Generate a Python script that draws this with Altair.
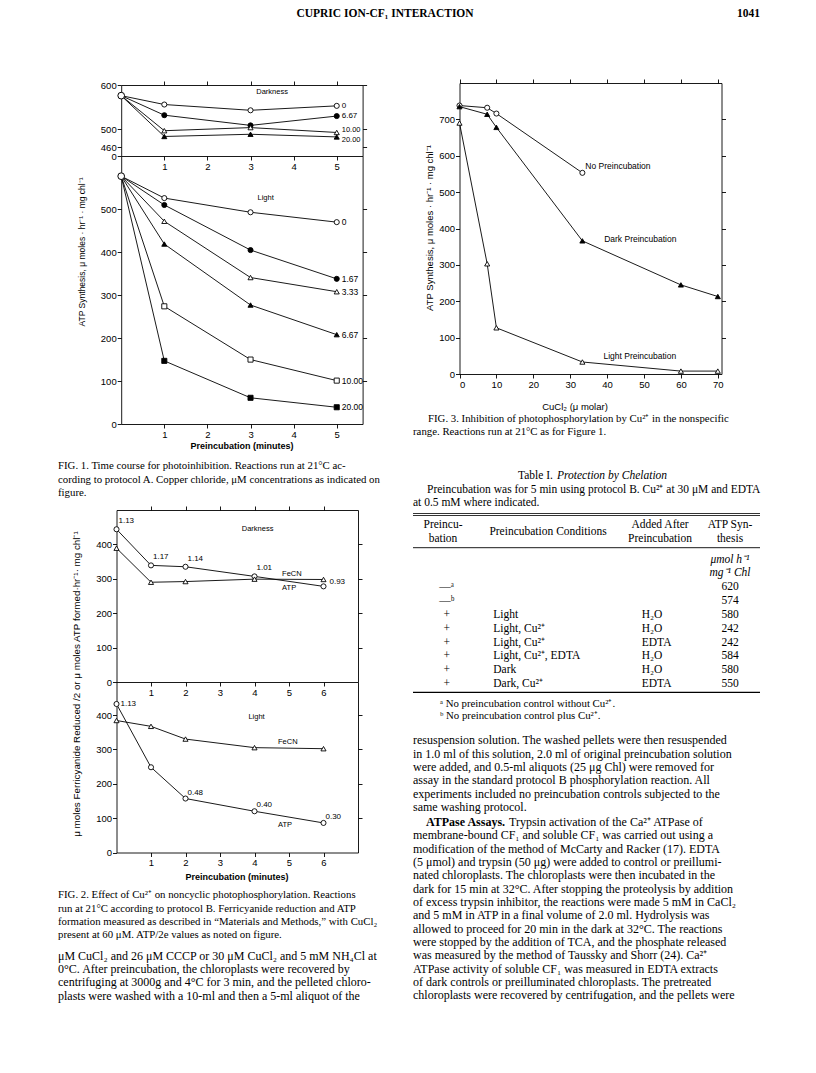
import altair as alt
import pandas as pd

# ---------------- data ----------------
# Figure 1: ATP synthesis vs preincubation time, CuCl2 (uM) series
F1_TIME = [0, 1, 3, 5]
F1_DARK_CONC = ["0", "6.67", "10.00", "20.00"]
F1_DARK_ATP = [
    [576, 556, 543, 553],
    [576, 532, 509, 530],
    [576, 497, 504, 493],
    [576, 484, 489, 483],
]
F1_LIGHT_CONC = ["0", "1.67", "3.33", "6.67", "10.00", "20.00"]
F1_LIGHT_ATP = [
    [577, 526, 493, 470],
    [577, 510, 405, 338],
    [577, 472, 341, 308],
    [577, 419, 277, 208],
    [577, 274, 150, 101],
    [577, 147, 61, 39],
]
# Figure 2: ferricyanide reduction / ATP formation
F2_TIME = [0, 1, 2, 4, 6]
F2_SERIES = ["ATP", "FeCN"]
F2_DARK_ATP = [444, 339, 335, 307, 278]
F2_DARK_FECN = [389, 290, 292, 299, 298]
F2_DARK_RATIO = ["1.13", "1.17", "1.14", "1.01", "0.93"]
F2_LIGHT_ATP = [432, 248, 157, 120, 86]
F2_LIGHT_FECN = [384, 367, 330, 305, 302]
F2_LIGHT_RATIO = ["1.13", "", "0.48", "0.40", "0.30"]
# Figure 3: ATP synthesis vs CuCl2
F3_CUCL2 = [0, 7.5, 10, 33.3, 60, 70]
F3_SERIES = ["No Preincubation", "Dark Preincubation", "Light Preincubation"]
F3_NONE = [738, 732, 716, 553]
F3_DARK = [735, 714, 678, 366, 245, 213]
F3_LIGHT = [690, 303, 127, 33, 8, 8]
# Table I
T_PREINC = ["—ᵃ", "—ᵇ", "+", "+", "+", "+", "+", "+"]
T_COND = ["", "", "Light", "Light, Cu²⁺", "Light, Cu²⁺", "Light, Cu²⁺, EDTA", "Dark", "Dark, Cu²⁺"]
T_ADDED = ["", "", "H₂O", "H₂O", "EDTA", "H₂O", "H₂O", "EDTA"]
T_ATP = [620, 574, 580, 242, 242, 584, 580, 550]

# ---------------- layout helpers ----------------
M = 8
W, H = 800, 1057
SANS = "Liberation Sans"
SERIF = "Liberation Serif"

AX = dict(grid=False, title=None, labelFont=SANS, labelFontSize=9.5, labelColor="black",
          tickColor="black", domainColor="black", tickSize=4, tickWidth=0.9,
          domainWidth=0.9, labelPadding=1, labelOverlap=False)


def make_df(xs, names, vals):
    rows = []
    for name, vv in zip(names, vals):
        for t, v in zip(xs, vv):
            rows.append({"t": t, "v": v, "s": name})
    return pd.DataFrame(rows)


def scales(xdom, xpx, ydom, ypx):
    xs = alt.Scale(domain=xdom, range=[xpx[0] - M, xpx[1] - M], nice=False, zero=False)
    ys = alt.Scale(domain=ydom, range=[ypx[0] - M, ypx[1] - M], nice=False, zero=False)
    return xs, ys


def panel(df, xs, ys, xpx, ypx, xticks, yticks, names, shapes, fills, top=True,
          ylabel_expr=None, first_open=False, size=26):
    xa = alt.Axis(orient="bottom", offset=(ypx[0] - M) - H, values=xticks, format="d", **AX)
    yargs = dict(AX)
    if ylabel_expr:
        yargs["labelExpr"] = ylabel_expr
    ya = alt.Axis(orient="left", offset=-(xpx[0] - M), values=yticks, format="d", **yargs)
    base = alt.Chart(df)
    layers = []
    layers.append(base.mark_line(color="black", strokeWidth=0.9).encode(
        x=alt.X("t:Q", scale=xs, axis=xa), y=alt.Y("v:Q", scale=ys, axis=ya), detail="s:N"))
    pbase = base.transform_filter(alt.datum.t > 0) if first_open else base
    layers.append(pbase.mark_point(filled=True, stroke="black", strokeWidth=0.9, size=size, opacity=1).encode(
        x=alt.X("t:Q", scale=xs, axis=None), y=alt.Y("v:Q", scale=ys, axis=None),
        shape=alt.Shape("s:N", scale=alt.Scale(domain=names, range=shapes), legend=None),
        fill=alt.Fill("s:N", scale=alt.Scale(domain=names, range=fills), legend=None)))
    if first_open:
        layers.append(base.transform_filter((alt.datum.t == 0) & (alt.datum.s == names[0]))
                      .mark_point(shape="circle", filled=True, fill="white", stroke="black",
                                  strokeWidth=1, size=45, opacity=1)
                      .encode(x=alt.X("t:Q", scale=xs, axis=None), y=alt.Y("v:Q", scale=ys, axis=None)))
    # frame axes (top/right)
    ta = alt.Axis(orient="top", offset=-(ypx[1] - M), values=xticks, labels=False, **AX) if top else None
    ra = alt.Axis(orient="right", offset=(xpx[1] - M) - W, values=[v for v in yticks if v > ys.domain[0]],
                  labels=False, **AX)
    layers.append(base.mark_point(opacity=0).encode(
        x=alt.X("t:Q", scale=xs, axis=ta), y=alt.Y("v:Q", scale=ys, axis=ra)))
    return layers


def end_labels(df, xs, ys, tlast, dx=5, size=8.5, dy=0, only=None):
    c = alt.Chart(df).transform_filter(alt.datum.t == tlast)
    if only is not None:
        c = c.transform_filter(alt.FieldOneOfPredicate(field="s", oneOf=only))
    return c.mark_text(
        align="left", baseline="middle", dx=dx, dy=dy, font=SANS, fontSize=size, color="black").encode(
        x=alt.X("t:Q", scale=xs, axis=None), y=alt.Y("v:Q", scale=ys, axis=None), text="s:N")


def note(text, xv, yv, xs, ys, align="center", size=8, weight="normal"):
    return alt.Chart(pd.DataFrame({"n": [text]})).mark_text(
        align=align, baseline="middle", font=SANS, fontSize=size, fontWeight=weight, color="black").encode(
        x=alt.XDatum(xv, scale=xs, axis=None), y=alt.YDatum(yv, scale=ys, axis=None), text="n:N")


def txt(lines, x, y, size, font=SERIF, align="left", weight="normal", style="normal", lh=None, angle=0):
    kw = dict(align=align, baseline="top", font=font, fontSize=size, fontWeight=weight,
              fontStyle=style, color="black", lineBreak="\n")
    if lh:
        kw["lineHeight"] = lh
    if angle:
        kw["angle"] = angle
        kw["baseline"] = "middle"
        ytop = y
    else:
        ytop = y - 0.53 * size
    return alt.Chart(pd.DataFrame({"txt": ["\n".join(lines)]})).mark_text(**kw).encode(
        x=alt.value(x - M), y=alt.value(ytop - M), text="txt:N")


def indep(layers):
    return alt.layer(*layers).resolve_axis(x="independent", y="independent")


parts = []
BODY = 12
CAP = 10.8
TAB = 11.5

# ---------------- header ----------------
parts.append(txt(["CUPRIC ION-CF₁ INTERACTION"], 385, 14, 11.5, weight="bold", align="center"))
parts.append(txt(["1041"], 760, 14, 11.5, weight="bold", align="right"))

# ---------------- Figure 1 ----------------
f1d = make_df(F1_TIME, F1_DARK_CONC, F1_DARK_ATP)
xs, ys = scales([0, 5.6], [121.2, 362.6], [440, 600], [156, 85])
L = panel(f1d, xs, ys, [121.2, 362.6], [156, 85], [1, 2, 3, 4, 5], [440, 460, 500, 600],
          F1_DARK_CONC, ["circle", "circle", "triangle-up", "triangle-up"],
          ["white", "black", "white", "black"], top=True,
          ylabel_expr="datum.value == 440 ? '0' : datum.label", first_open=True)
L.append(end_labels(f1d, xs, ys, 5, size=8, only=["0", "6.67"]))
L.append(end_labels(f1d, xs, ys, 5, size=7.5, dy=-2.5, only=["10.00"]))
L.append(end_labels(f1d, xs, ys, 5, size=7.5, dy=3, only=["20.00"]))
L.append(note("Darkness", 3.5, 585, xs, ys, size=7.5))
parts.append(indep(L))

f1l = make_df(F1_TIME, F1_LIGHT_CONC, F1_LIGHT_ATP)
xs, ys = scales([0, 5.6], [121.2, 362.6], [0, 624], [424, 156])
L = panel(f1l, xs, ys, [121.2, 362.6], [424, 156], [1, 2, 3, 4, 5], [0, 100, 200, 300, 400, 500],
          F1_LIGHT_CONC, ["circle", "circle", "triangle-up", "triangle-up", "square", "square"],
          ["white", "black", "white", "black", "white", "black"], top=False, first_open=True)
L.append(end_labels(f1l, xs, ys, 5))
L.append(note("Light", 3.35, 527, xs, ys, size=7.5))
parts.append(indep(L))

parts.append(txt(["ATP  Synthesis, μ moles · hr⁻¹ · mg chl⁻¹"], 82, 252, 8.5, font=SANS, angle=270, align="center"))
parts.append(txt(["Preincubation (minutes)"], 242, 447, 9, font=SANS, weight="bold", align="center"))
parts.append(txt(["FIG. 1. Time course for photoinhibition. Reactions run at 21°C ac-",
                  "cording to protocol A. Copper chloride, μM concentrations as indicated on",
                  "figure."], 58, 466, CAP, lh=13.5))

# ---------------- Figure 2 ----------------
f2d = make_df(F2_TIME, F2_SERIES, [F2_DARK_ATP, F2_DARK_FECN])
f2d_r = pd.DataFrame({"t": F2_TIME, "v": F2_DARK_ATP, "r": F2_DARK_RATIO})
xs, ys = scales([0, 7], [116.5, 358], [0, 500], [682, 510])
L = panel(f2d, xs, ys, [116.5, 358], [682, 510], [1, 2, 3, 4, 5, 6], [0, 100, 200, 300, 400],
          F2_SERIES, ["circle", "triangle-up"], ["white", "white"], top=True)
L.append(alt.Chart(f2d_r).transform_filter(alt.datum.t < 6).mark_text(
    align="left", baseline="middle", dx=2, dy=-8, font=SANS, fontSize=8, color="black").encode(
    x=alt.X("t:Q", scale=xs, axis=None), y=alt.Y("v:Q", scale=ys, axis=None), text="r:N"))
L.append(alt.Chart(f2d_r).transform_filter(alt.datum.t == 6).mark_text(
    align="left", baseline="middle", dx=6, dy=-4, font=SANS, fontSize=8, color="black").encode(
    x=alt.X("t:Q", scale=xs, axis=None), y=alt.Y("v:Q", scale=ys, axis=None), text="r:N"))
L.append(note("Darkness", 4.09, 446, xs, ys, size=7.5))
L.append(note("FeCN", 4.8, 314, xs, ys, align="left", size=7.5))
L.append(note("ATP", 4.8, 273, xs, ys, align="left", size=7.5))
parts.append(indep(L))

f2l = make_df(F2_TIME, F2_SERIES, [F2_LIGHT_ATP, F2_LIGHT_FECN])
f2l_r = pd.DataFrame({"t": F2_TIME, "v": F2_LIGHT_ATP, "r": F2_LIGHT_RATIO})
xs, ys = scales([0, 7], [116.5, 358], [0, 496], [852.5, 682])
L = panel(f2l, xs, ys, [116.5, 358], [852.5, 682], [1, 2, 3, 4, 5, 6], [0, 100, 200, 300, 400],
          F2_SERIES, ["circle", "triangle-up"], ["white", "white"], top=False)
L.append(alt.Chart(f2l_r).transform_filter(alt.datum.t == 0).mark_text(
    align="left", baseline="middle", dx=4, dy=0, font=SANS, fontSize=8, color="black").encode(
    x=alt.X("t:Q", scale=xs, axis=None), y=alt.Y("v:Q", scale=ys, axis=None), text="r:N"))
L.append(alt.Chart(f2l_r).transform_filter((alt.datum.t > 0) & (alt.datum.r != "")).mark_text(
    align="left", baseline="middle", dx=2, dy=-6, font=SANS, fontSize=8, color="black").encode(
    x=alt.X("t:Q", scale=xs, axis=None), y=alt.Y("v:Q", scale=ys, axis=None), text="r:N"))
L.append(note("Light", 4.06, 395, xs, ys, size=7.5))
L.append(note("FeCN", 4.68, 322, xs, ys, align="left", size=7.5))
L.append(note("ATP", 4.68, 80, xs, ys, align="left", size=7.5))
parts.append(indep(L))

parts.append(txt(["μ moles Ferricyanide Reduced /2  or  μ moles ATP formed·hr⁻¹· mg chl⁻¹"], 77, 684, 9.8,
                 font=SANS, angle=270, align="center"))
parts.append(txt(["Preincubation (minutes)"], 237, 878, 9, font=SANS, weight="bold", align="center"))
parts.append(txt(["FIG. 2. Effect of Cu²⁺ on noncyclic photophosphorylation. Reactions",
                  "run at 21°C according to protocol B. Ferricyanide reduction and ATP",
                  "formation measured as described in “Materials and Methods,” with CuCl₂",
                  "present at 60 μM. ATP/2e values as noted on figure."], 58, 895, CAP, lh=13.4))
parts.append(txt(["μM CuCl₂ and 26 μM CCCP or 30 μM CuCl₂ and 5 mM NH₄Cl at",
                  "0°C. After preincubation, the chloroplasts were recovered by",
                  "centrifuging at 3000g and 4°C for 3 min, and the pelleted chloro-",
                  "plasts were washed with a 10-ml and then a 5-ml aliquot of the"], 58, 957, BODY, lh=13.4))

# ---------------- Figure 3 ----------------
f3 = make_df(F3_CUCL2, F3_SERIES, [F3_NONE, F3_DARK, F3_LIGHT])
xs, ys = scales([0, 71], [459.5, 721.5], [0, 800], [374, 83])
L = panel(f3, xs, ys, [459.5, 721.5], [374, 83], [0, 10, 20, 30, 40, 50, 60, 70],
          [0, 100, 200, 300, 400, 500, 600, 700], F3_SERIES,
          ["circle", "triangle-up", "triangle-up"], ["white", "black", "white"], top=True)
L.append(note("No Preincubation", 34.1, 571, xs, ys, align="left", size=8.5))
L.append(note("Dark Preincubation", 39.2, 371, xs, ys, align="left", size=8.5))
L.append(note("Light Preincubation", 39, 49.6, xs, ys, align="left", size=8.5))
parts.append(indep(L))
parts.append(txt(["ATP  Synthesis, μ moles · hr⁻¹ · mg chl⁻¹"], 430, 228, 9.5, font=SANS, angle=270, align="center"))
parts.append(txt(["CuCl₂   (μ molar)"], 575, 407, 9.5, font=SANS, align="center"))
parts.append(txt(["FIG. 3. Inhibition of photophosphorylation by Cu²⁺ in the nonspecific"], 428, 419, CAP))
parts.append(txt(["range. Reactions run at 21°C as for Figure 1."], 413, 432, CAP))

# ---------------- Table I ----------------
parts.append(txt(["Table I."], 553, 476, TAB, align="right"))
parts.append(txt(["Protection by Chelation"], 557, 476, TAB, style="italic"))
parts.append(txt(["Preincubation was for 5 min using protocol B. Cu²⁺ at 30 μM and EDTA"], 427, 490.5, TAB))
parts.append(txt(["at 0.5 mM where indicated."], 413, 503, TAB))

rule_df = pd.DataFrame({"a": [0]})
for yy, sw in [(513.5, 0.8), (515.5, 0.8), (547.7, 0.9), (692.3, 1.2)]:
    parts.append(alt.Chart(rule_df).mark_rule(color="black", strokeWidth=sw).encode(
        x=alt.value(413 - M), x2=alt.value(760 - M), y=alt.value(yy - M)))

parts.append(txt(["Preincu-", "bation"], 443, 525, TAB, align="center", lh=13.7))
parts.append(txt(["Preincubation Conditions"], 548, 532, TAB, align="center"))
parts.append(txt(["Added After", "Preincubation"], 660, 525, TAB, align="center", lh=13.7))
parts.append(txt(["ATP Syn-", "thesis"], 730, 525, TAB, align="center", lh=13.7))
parts.append(txt(["μmol h⁻¹", "mg⁻¹ Chl"], 730, 560, TAB, align="center", style="italic", lh=12.7))

tdf = pd.DataFrame({"row": list(range(len(T_ATP))), "p": T_PREINC, "c": T_COND, "a": T_ADDED,
                    "atp": [str(v) for v in T_ATP]})
rs = alt.Scale(domain=[0, 7], range=[587.3 - M, 684 - M], nice=False, zero=False)
for fld, xx, al in [("p", 446.7, "center"), ("c", 493.3, "left"), ("a", 641.7, "left"), ("atp", 730, "center")]:
    parts.append(alt.Chart(tdf).mark_text(align=al, baseline="middle", font=SERIF, fontSize=TAB, color="black").encode(
        x=alt.value(xx - M), y=alt.Y("row:Q", scale=rs, axis=None), text=f"{fld}:N"))

parts.append(txt(["ᵃ No preincubation control without Cu²⁺.", "ᵇ No preincubation control plus Cu²⁺."],
                 440, 703.3, CAP, lh=12.8))

# ---------------- right body text ----------------
parts.append(txt(["resuspension solution. The washed pellets were then resuspended",
                  "in 1.0 ml of this solution, 2.0 ml of original preincubation solution",
                  "were added, and 0.5-ml aliquots (25 μg Chl) were removed for",
                  "assay in the standard protocol B phosphorylation reaction. All",
                  "experiments included no preincubation controls subjected to the",
                  "same washing protocol."], 413, 741.7, BODY, lh=13.33))
parts.append(txt(["ATPase Assays."], 426, 823.3, BODY, weight="bold"))
parts.append(txt(["Trypsin activation of the Ca²⁺ ATPase of"], 509, 823.3, BODY))
parts.append(txt(["membrane-bound CF₁ and soluble CF₁ was carried out using a",
                  "modification of the method of McCarty and Racker (17). EDTA",
                  "(5 μmol) and trypsin (50 μg) were added to control or preillumi-",
                  "nated chloroplasts. The chloroplasts were then incubated in the",
                  "dark for 15 min at 32°C. After stopping the proteolysis by addition",
                  "of excess trypsin inhibitor, the reactions were made 5 mM in CaCl₂",
                  "and 5 mM in ATP in a final volume of 2.0 ml. Hydrolysis was",
                  "allowed to proceed for 20 min in the dark at 32°C. The reactions",
                  "were stopped by the addition of TCA, and the phosphate released",
                  "was measured by the method of Taussky and Shorr (24). Ca²⁺",
                  "ATPase activity of soluble CF₁ was measured in EDTA extracts",
                  "of dark controls or preilluminated chloroplasts. The pretreated",
                  "chloroplasts were recovered by centrifugation, and the pellets were"],
                 413, 836.7, BODY, lh=13.33))

chart = alt.layer(*parts).resolve_scale(
    x="independent", y="independent", shape="independent", fill="independent"
).properties(width=W, height=H, padding=0, autosize="none", background="white").configure_view(stroke="transparent")

chart.save("out.html", embed_options={"renderer": "svg", "actions": False})
